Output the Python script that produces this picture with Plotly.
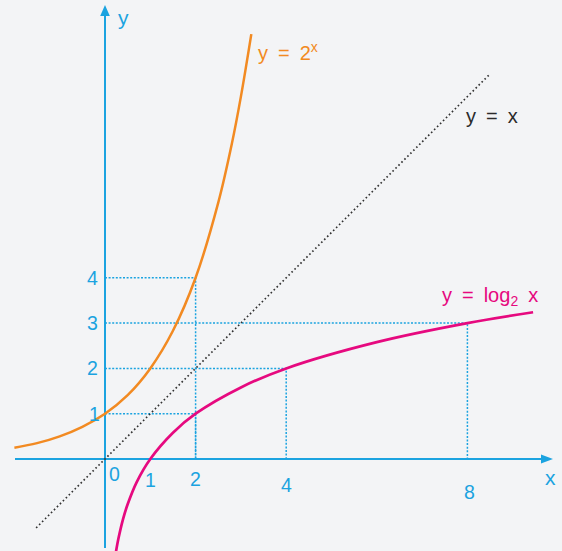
import plotly.graph_objects as go

# ---- data ----
exp_x = [-2.0, -1.5, -1.0, -0.5, 0.0, 0.5, 1.0, 1.5, 2.0, 2.5, 2.8, 3.0, 3.23]
exp_y = [0.25, 0.35, 0.5, 0.71, 1.0, 1.41, 2.0, 2.83, 4.0, 5.66, 6.96, 8.0, 9.38]

log_x = [0.24, 0.3, 0.4, 0.5, 0.7, 1.0, 1.5, 2.0, 3.0, 4.0, 6.0, 8.0, 9.45]
log_y = [-2.06, -1.74, -1.32, -1.0, -0.51, 0.0, 0.58, 1.0, 1.58, 2.0, 2.58, 3.0, 3.24]

ident_x = [-1.52, 8.5]
ident_y = [-1.52, 8.5]

guide_x = [2, 4, 8, 2]
guide_y = [4, 2, 3, 1]

xtick_vals = [0, 1, 2, 4, 8]
xtick_text = ["0", "1", "2", "4", "8"]
ytick_vals = [1, 2, 3, 4]
ytick_text = ["1", "2", "3", "4"]

# ---- styling ----
CYAN = "#1BA3E0"
ORANGE = "#F28A22"
MAGENTA = "#E6097F"
BG = "#F3F4F6"
FONT = "Liberation Sans, Arial, sans-serif"
S = 45.3  # px per unit
OX, OY = 105, 459
W, H = 562, 551
SP = "&#8194;"  # wider gap like the reference typesetting

fig = go.Figure()

# guide lines
for gx, gy in zip(guide_x, guide_y):
    fig.add_trace(go.Scatter(x=[0, gx, gx], y=[gy, gy, 0], mode="lines",
                             line=dict(color=CYAN, width=1.5, dash="2px,1.6px"),
                             hoverinfo="skip", showlegend=False))

# y = x dotted
fig.add_trace(go.Scatter(x=ident_x, y=ident_y, mode="lines",
                         line=dict(color="#333333", width=1.7, dash="1.6px,2.6px"),
                         showlegend=False))
# curves
fig.add_trace(go.Scatter(x=exp_x, y=exp_y, mode="lines",
                         line=dict(color=ORANGE, width=2.5, shape="spline"),
                         showlegend=False))
fig.add_trace(go.Scatter(x=log_x, y=log_y, mode="lines",
                         line=dict(color=MAGENTA, width=2.7, shape="spline"),
                         showlegend=False))

def px2x(p):
    return (p - OX) / S

def px2y(p):
    return (OY - p) / S

shapes = []
# axes
shapes.append(dict(type="line", x0=px2x(15), x1=px2x(544), y0=0, y1=0,
                   line=dict(color=CYAN, width=2), layer="below"))
shapes.append(dict(type="line", x0=0, x1=0, y0=px2y(548), y1=px2y(12),
                   line=dict(color=CYAN, width=2), layer="below"))
# arrow heads
shapes.append(dict(type="path",
                   path=f"M {px2x(553)} 0 L {px2x(541)} {4.5/S} L {px2x(541)} {-4.5/S} Z",
                   fillcolor=CYAN, line=dict(color=CYAN, width=0)))
shapes.append(dict(type="path",
                   path=f"M 0 {px2y(5)} L {4.8/S} {px2y(16)} L {-4.8/S} {px2y(16)} Z",
                   fillcolor=CYAN, line=dict(color=CYAN, width=0)))

annotations = []
# x tick labels (staggered, as in the picture)
xtick_px_y = [473.5, 479.5, 479, 485, 492]
xtick_px_dx = [9, 0, 0, 0, 2]
for v, t, py, dx in zip(xtick_vals, xtick_text, xtick_px_y, xtick_px_dx):
    annotations.append(dict(x=v + dx / S, y=px2y(py), text=t, showarrow=False,
                            xanchor="center", yanchor="middle",
                            font=dict(color=CYAN, size=19.5, family=FONT)))
ytick_px_x = [94, 92.5, 92.5, 92.5]
for v, t, px in zip(ytick_vals, ytick_text, ytick_px_x):
    annotations.append(dict(x=px2x(px), y=v, text=t, showarrow=False,
                            xanchor="center", yanchor="middle",
                            font=dict(color=CYAN, size=19.5, family=FONT)))
# axis names
annotations.append(dict(x=px2x(550), y=px2y(477), text="x", showarrow=False,
                        xanchor="center", yanchor="middle",
                        font=dict(color=CYAN, size=21, family=FONT)))
annotations.append(dict(x=px2x(123), y=px2y(17), text="y", showarrow=False,
                        xanchor="center", yanchor="middle",
                        font=dict(color=CYAN, size=21, family=FONT)))
# curve labels
annotations.append(dict(x=px2x(256), y=px2y(51), text=f"y{SP}={SP}2<sup>x</sup>", showarrow=False,
                        xanchor="left", yanchor="middle",
                        font=dict(color=ORANGE, size=20, family=FONT)))
annotations.append(dict(x=px2x(464), y=px2y(116), text=f"y{SP}={SP}x", showarrow=False,
                        xanchor="left", yanchor="middle",
                        font=dict(color="#2b2b2b", size=20, family=FONT)))
annotations.append(dict(x=px2x(440), y=px2y(296), text=f"y{SP}={SP}log<sub>2</sub>{SP}x", showarrow=False,
                        xanchor="left", yanchor="middle",
                        font=dict(color=MAGENTA, size=20, family=FONT)))

fig.update_layout(
    width=W, height=H,
    margin=dict(l=0, r=0, t=0, b=0),
    paper_bgcolor=BG, plot_bgcolor=BG,
    xaxis=dict(range=[px2x(0), px2x(W)], visible=False, fixedrange=True),
    yaxis=dict(range=[px2y(H), px2y(0)], visible=False, fixedrange=True),
    shapes=shapes, annotations=annotations,
    showlegend=False,
)

fig.write_html(
    "out.html",
    config={"displayModeBar": False},
    post_script="document.body.style.margin='0';document.body.style.background='" + BG + "';",
)
